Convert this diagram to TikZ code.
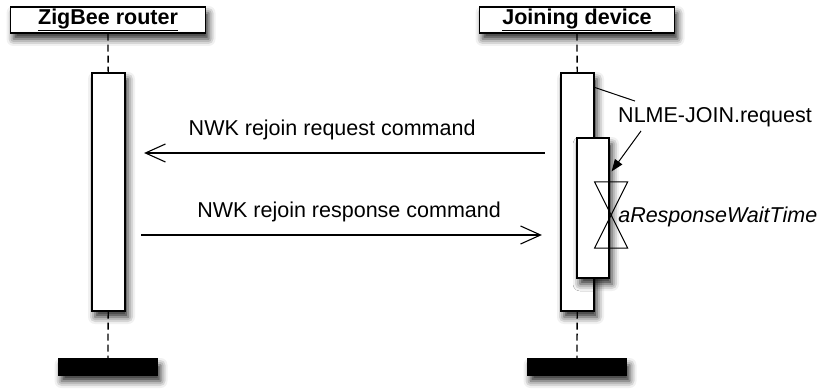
\documentclass[tikz,border=0pt]{standalone}
\usepackage{fontspec}
\setmainfont{Liberation Sans}
\usepackage{tikz}
\usetikzlibrary{arrows.meta}
\usetikzlibrary{positioning}
\usetikzlibrary{calc}
\usetikzlibrary{shadows.blur}
\tikzset{basic box/.style={draw,
                           fill=white,
                           line width=1.2pt,
                           inner sep=0pt,
                           blur shadow={shadow xshift=3pt,shadow yshift=-6pt,
                                        shadow blur radius=7pt,shadow opacity=85}}}
\tikzset{head/.style={basic box,minimum width=195pt,minimum height=26pt,
                      font=\fontsize{21.5}{24}\selectfont\bfseries}}
\tikzset{activation/.style={basic box,minimum width=33pt}}
\tikzset{lifeline/.style={draw,line width=1.3pt,dash pattern=on 7pt off 4pt}}
\tikzset{message/.style={draw,
                         line width=1.1pt,
                         -{Straight Barb[length=20pt,width=18pt]}}}

\begin{document}
\begin{tikzpicture}
      [
      x=1pt,y=-1pt,
      every node/.style={font=\fontsize{21.5}{24}\selectfont,inner sep=2pt},
      end bar/.style={basic box,fill=black,minimum width=99pt,minimum height=16pt},
      note/.style={draw,line width=1pt},
      ]
      \useasboundingbox (0,0) rectangle (819,390);

      % participants
      \foreach \n/\x/\t in {zr/108/ZigBee router, jd/577/Joining device}
      {
      \node [head] (\n) at (\x,20) {\underline{\t}};
      \node [activation,minimum height=238pt] (\n A) at (\x+0.5,192) {};
      \node [end bar] (\n E) at (\x,367) {};
      \draw [lifeline] (\n) -- (\n A);
      \draw [lifeline] (\n A) -- (\n E);
      }

      % nested activation
      \node [activation,minimum width=32pt,minimum height=140pt] (jdN) at (593,208) {};

      % messages
      \coordinate (req) at (0,153);
      \coordinate (rsp) at (0,235);
      \draw [message,shorten <=15.5pt,shorten >=18.5pt] (jdA.west |- req) --
      node [pos=0.525,above=10pt] (reqL) {NWK rejoin request command} (zrA.east |- req);
      \draw [message,shorten <=15.5pt,shorten >=18.5pt] (zrA.east |- rsp) --
      node [pos=0.514,above=10pt] (rspL) {NWK rejoin response command} (jdA.west |- rsp);

      % wait time
      \coordinate (wt) at ($(jdN.east)+(1.5,7)$);
      \draw [line width=1pt] ($(wt)+(-16.5,-33)$) -- ++(33,0) --
      ($(wt)+(-16.5,33)$) -- ++(33,0) -- cycle;
      \node [anchor=west,font=\fontsize{21.5}{24}\selectfont\itshape] (wtL)
      at ($(wt)+(5,2)$) {aResponseWaitTime};

      % request note
      \node (nlme) at (715,117) {NLME-JOIN.request};
      \coordinate (noteA) at ($(jdA.north east)+(0,15)$);
      \draw [note] (noteA) -- ($(nlme.north west)+(19,-4)$);
      \draw [note,-{Triangle[length=12pt,width=9pt]}] ($(nlme.south west)+(25,2)$) --
      ($(jdN.north east)+(2,34)$);

\end{tikzpicture}
\end{document}
